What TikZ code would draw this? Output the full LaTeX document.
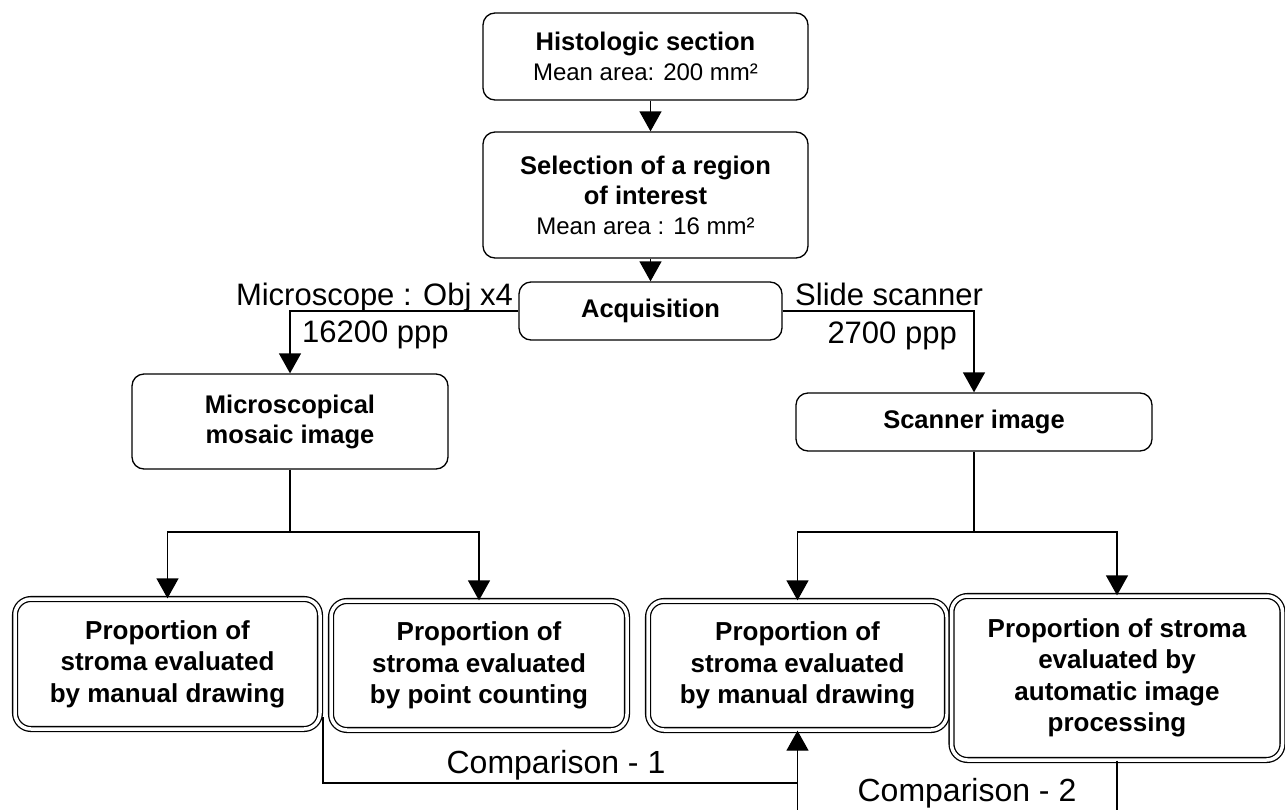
\documentclass[tikz,border=0pt]{standalone}
\usepackage{fontspec}
\setmainfont{Liberation Sans}
\usetikzlibrary{arrows.meta}

\begin{document}
\begin{tikzpicture}[x=1pt, y=-1pt, every node/.style={inner sep=0pt},
  box/.style={draw, line width=1.3pt, rounded corners=12pt, align=center, font=\bfseries\fontsize{25.5}{30}\selectfont},
  dbox/.style={box, double, double distance=3.5pt, rounded corners=16pt, font=\bfseries\fontsize{26}{31.5}\selectfont},
  lbl/.style={font=\fontsize{31}{34}\selectfont},
  cmp/.style={font=\fontsize{32}{34}\selectfont},
  arr/.style={line width=1.3pt, -{Triangle[width=22pt,length=20pt]}},
  wire/.style={line width=1.3pt}]
  \useasboundingbox (0,0) rectangle (1285,809);
  \clip (0,0) rectangle (1285,809);

  \node (hist) [box, minimum width=325pt, minimum height=87pt] at (645.5,56.5) {Histologic section\\{\mdseries\fontsize{24}{30}\selectfont Mean area: 200 mm²}};
  \node (roi) [box, minimum width=325pt, minimum height=126pt] at (645.5,195) {Selection of a region\\of interest\\{\mdseries\fontsize{24}{30}\selectfont Mean area : 16 mm²}};
  \node (acq) [box, minimum width=263pt, minimum height=58pt] at (650.5,311) {Acquisition};
  \node (mosaic) [box, minimum width=316pt, minimum height=95pt] at (290,421.5) {Microscopical\\mosaic image};
  \node (scanner) [box, minimum width=356pt, minimum height=58pt] at (974,422) {Scanner image};

  \node (mosManual) [dbox, minimum width=305pt, minimum height=130pt] at (167.5,664) {Proportion of\\stroma evaluated\\by manual drawing};
  \node (mosPoint) [dbox, minimum width=296pt, minimum height=129pt] at (479,665.5) {Proportion of\\stroma evaluated\\by point counting};
  \node (scanManual) [dbox, minimum width=299pt, minimum height=129pt] at (797.5,665.5) {Proportion of\\stroma evaluated\\by manual drawing};
  \node (scanAuto) [dbox, minimum width=331pt, minimum height=164pt] at (1117,678) {Proportion of stroma\\evaluated by\\automatic image\\processing};

  \node (micLbl) [lbl, anchor=base east] at (513,305) {Microscope : Obj x4};
  \node (micRes) [lbl, anchor=base west] at (302,342) {16200 ppp};
  \node (scanLbl) [lbl, anchor=base west] at (795,305) {Slide scanner};
  \node (scanRes) [lbl, anchor=base east] at (957,343) {2700 ppp};
  \node (cmp1) [cmp, anchor=base] at (556,773) {Comparison - 1};
  \node (cmp2) [cmp, anchor=base] at (967,801) {Comparison - 2};

  \coordinate (mosSplit) at (290,532);
  \coordinate (scanSplit) at (974,532);
  \coordinate (cmp1Top) at (323,717);
  \coordinate (cmp1Bot) at (323,783);
  \coordinate (cmp2Bot) at (797.5,830);

  \draw[arr] (hist.south -| acq.north) -- (roi.north -| acq.north);
  \draw[arr] (roi.south -| acq.north) -- (acq.north);
  \draw[arr] (acq.west) -| (mosaic.north);
  \draw[arr] (acq.east) -| (scanner.north);
  \draw[wire] (mosaic.south) -- (mosSplit);
  \draw[arr] (mosSplit) -| (mosManual.north);
  \draw[arr] (mosSplit) -| (mosPoint.north);
  \draw[wire] (scanner.south) -- (scanSplit);
  \draw[arr] (scanSplit) -| (scanManual.north);
  \draw[arr] (scanSplit) -| (scanAuto.north);
  \draw[arr] (cmp1Top) -- (cmp1Bot) -| (scanManual.south);
  \draw[wire] (scanAuto.south) |- (cmp2Bot) -- (scanManual.south |- cmp1Bot);
\end{tikzpicture}
\end{document}
